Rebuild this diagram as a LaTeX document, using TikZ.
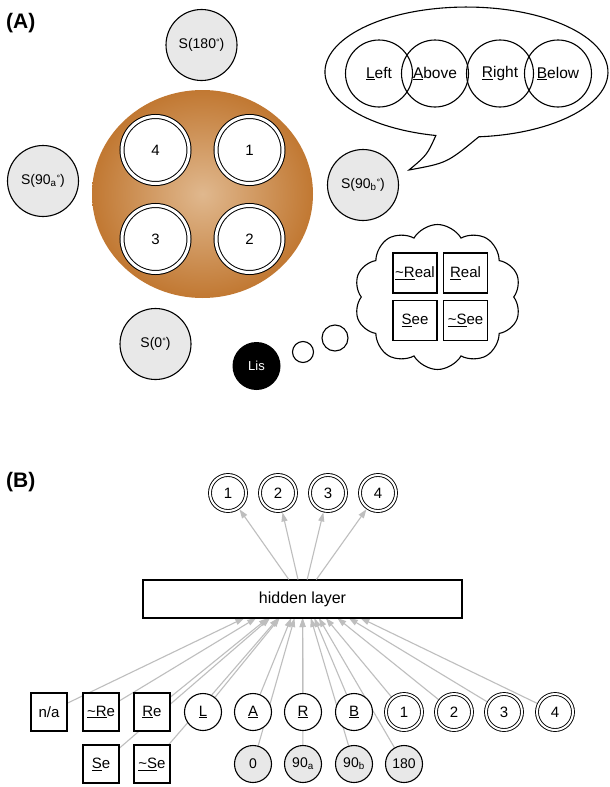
\documentclass[tikz,border=0pt]{standalone}
\usepackage{fontspec}
\setmainfont{Liberation Sans}
\usetikzlibrary{shapes.symbols,arrows.meta,backgrounds,calc}
\definecolor{sgray}{RGB}{232,232,232}
\definecolor{agray}{RGB}{190,190,190}
\definecolor{tanc}{RGB}{224,184,142}
\definecolor{orangec}{RGB}{193,120,50}
\newcommand\mydeg{\raisebox{3.5pt}{\fontsize{9}{9}\selectfont °}}
\newcommand\uln[1]{\underline{#1}}
\newcommand\fsz[1]{\fontsize{#1}{#1}\selectfont}
\begin{document}
\begin{tikzpicture}[x=1pt,y=1pt,
  lw/.style={line width=1.1pt},
  snode/.style={circle, draw, lw, fill=sgray, minimum size=71pt, inner sep=0pt, font=\fsz{14}},
  wellA/.style={circle, draw=black, line width=1pt, double=white, double distance=3pt, fill=white, minimum size=67pt, inner sep=0pt, font=\fsz{15}},
  dirn/.style={circle, draw, lw, minimum size=67pt, inner sep=0pt, font=\fsz{15.5}},
  abox/.style={rectangle, draw, lw, fill=white, minimum width=44pt, minimum height=40pt, inner sep=0pt, font=\fsz{15}},
  bbox/.style={rectangle, draw, lw, fill=white, minimum width=36pt, minimum height=38pt, inner sep=0pt, font=\fsz{15}},
  bcirc/.style={circle, draw, lw, fill=white, minimum size=37pt, inner sep=0pt, font=\fsz{15}},
  gcirc/.style={bcirc, fill=sgray, font=\fsz{14}},
  dcirc/.style={circle, draw=black, line width=0.9pt, double=white, double distance=2pt, fill=white, minimum size=36pt, inner sep=0pt, font=\fsz{15}},
  arr/.style={draw=agray, line width=1.1pt, -{Triangle[length=9pt,width=6pt]}},
  lab/.style={anchor=west, inner sep=0pt, font=\bfseries\fsz{21}},
]
\useasboundingbox (0,0) rectangle (610,-787);

% ---------------- (A) ----------------
\node[lab] (labA) at (6,-23) {(A)};
\shade[inner color=tanc, outer color=orangec] (202.5,-194) ellipse[x radius=110.5pt, y radius=104pt];
\node[wellA] (w4) at (155.5,-150) {4};
\node[wellA] (w1) at (249.5,-150) {1};
\node[wellA] (w3) at (155.5,-239) {3};
\node[wellA] (w2) at (249.5,-239) {2};

\node[snode] (s180) at (201.5,-45) {S(180\mydeg)};
\node[snode] (s90a) at (43,-181) {S(90\textsubscript{a}\mydeg)};
\node[snode] (s90b) at (363,-185) {S(90\textsubscript{b}\mydeg)};
\node[snode] (s0) at (155.5,-344) {S(0\mydeg)};

% speech bubble
\draw[lw, fill=white] (478.8,-136.8) arc[start angle=-85, end angle=257.5, x radius=141.5pt, y radius=65pt]
  .. controls (427,-155) .. (409,-170) .. controls (447,-163) .. (478.8,-136.8) -- cycle;
\node[dirn] (left) at (379,-73.5) {\uln{L}eft};
\node[dirn] (above) at (435,-73.5) {\uln{A}bove};
\node[dirn] (right) at (500,-73.5) {\uln{R}ight};
\node[dirn] (below) at (558,-73.5) {\uln{B}elow};

% thought cloud
\node[cloud, draw, lw, fill=white, cloud puffs=10, cloud puff arc=120, aspect=1.15,
      minimum width=167pt, minimum height=145pt, inner sep=0pt] (thought) at (437.5,-297) {};
\node[abox] (nreal) at (415,-273) {\uln{\textasciitilde R}eal};
\node[abox] (real) at (465.5,-273) {\uln{R}eal};
\node[abox] (see) at (415,-320.5) {\uln{S}ee};
\node[abox] (nsee) at (465.5,-320.5) {\uln{\textasciitilde S}ee};
\node[circle, draw, lw, fill=white, minimum size=26pt, inner sep=0pt] (t2) at (335,-338) {};
\node[circle, draw, lw, fill=white, minimum size=21pt, inner sep=0pt] (t1) at (303,-352) {};
\node[circle, fill=black, minimum size=48pt, inner sep=0pt, text=white, font=\fsz{13}] (lis) at (256.5,-366) {Lis};

% ---------------- (B) ----------------
\node[lab] (labB) at (6,-482) {(B)};
\node[draw, lw, fill=white, minimum width=319pt, minimum height=38pt, inner sep=0pt, font=\fsz{16}] (hid) at (302.5,-599) {hidden layer};
\coordinate (P) at (302.5,-590);

\node[dcirc] (o1) at (228,-493) {1};
\node[dcirc] (o2) at (278,-493) {2};
\node[dcirc] (o3) at (328,-493) {3};
\node[dcirc] (o4) at (378,-493) {4};

\node[bbox] (na) at (49,-712) {n/a};
\node[bbox] (nre) at (101,-712) {\uln{\textasciitilde R}e};
\node[bbox] (re) at (152,-712) {\uln{R}e};
\node[bcirc] (bl) at (203,-712) {\uln{L}};
\node[bcirc] (ba) at (253,-712) {\uln{A}};
\node[bcirc] (br) at (303,-712) {\uln{R}};
\node[bcirc] (bb) at (354,-712) {\uln{B}};
\node[dcirc] (i1) at (404,-712) {1};
\node[dcirc] (i2) at (454,-712) {2};
\node[dcirc] (i3) at (504,-712) {3};
\node[dcirc] (i4) at (555,-712) {4};

\node[bbox] (se) at (101,-764) {\uln{S}e};
\node[bbox] (nse) at (152,-764) {\uln{\textasciitilde S}e};
\node[gcirc] (g0) at (253,-764) {0};
\node[gcirc] (g90a) at (303,-764) {90\textsubscript{a}};
\node[gcirc] (g90b) at (354,-764) {90\textsubscript{b}};
\node[gcirc] (g180) at (404,-764) {180};

\begin{scope}[on background layer]
  \fill[white] (0,0) rectangle (610,-787);
  \foreach \nd in {na,nre,re,bl,ba,br,bb,i1,i2,i3,i4}
    {\draw[arr] (\nd) -- ($(\nd)!0.7705!(P)$);}
  \foreach \nd in {se,nse,g0,g90a,g90b,g180}
    {\draw[arr] (\nd) -- ($(\nd)!0.8391!(P)$);}
\end{scope}
\foreach \nd in {o1,o2,o3,o4} {\draw[arr, shorten >=1.5pt] (hid) -- (\nd);}
\end{tikzpicture}
\end{document}
